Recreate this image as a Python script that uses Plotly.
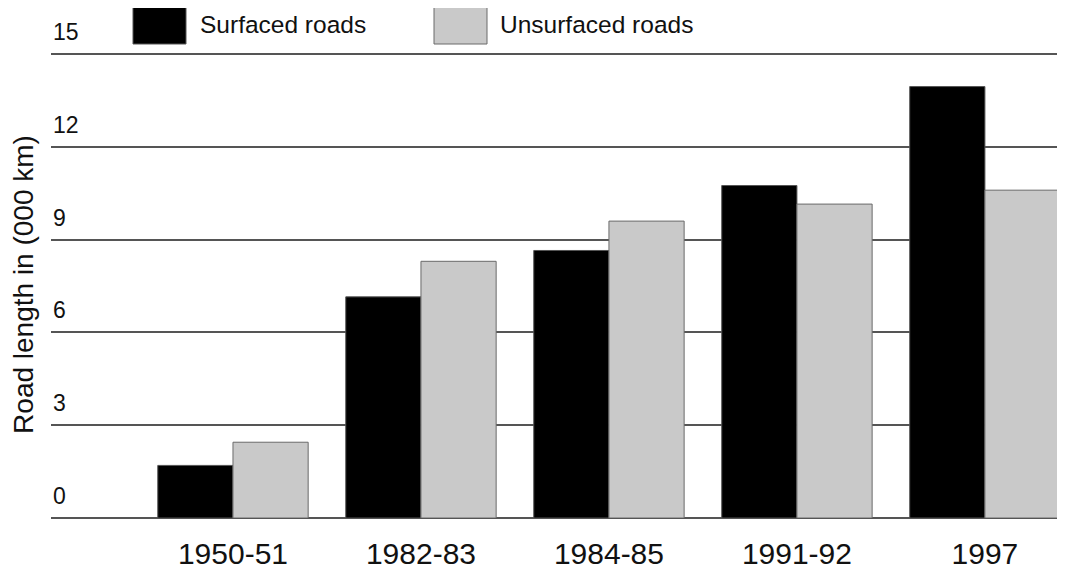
import plotly.graph_objects as go

categories = ["1950-51", "1982-83", "1984-85", "1991-92", "1997"]
surfaced = [1.7, 7.15, 8.65, 10.75, 13.95]
unsurfaced = [2.45, 8.3, 9.6, 10.15, 10.6]
y_ticks = [0, 3, 6, 9, 12, 15]
series_names = ["Surfaced roads", "Unsurfaced roads"]

FONT = "Liberation Sans, Arial, sans-serif"
OFF = 8  # page body margin
W, H = 1065 - OFF, 579 - OFF
Y_TOP = 15.1
# plot area in page coords: x 51..1065, y(0)=518, y(15)=54
unit = (518 - 54) / 15.0
L, R = 51 - OFF, 0
T = int(round(54 - OFF - (Y_TOP - 15) * unit))
B = H - (518 - OFF)

fig = go.Figure()
fig.add_trace(go.Bar(x=categories, y=surfaced, name=series_names[0],
                     marker=dict(color="#000000", line=dict(color="#555555", width=1)),
                     showlegend=False))
fig.add_trace(go.Bar(x=categories, y=unsurfaced, name=series_names[1],
                     marker=dict(color="#c9c9c9", line=dict(color="#6a6a6a", width=1)),
                     showlegend=False))

pw = W - L - R
ph = H - T - B

def px(x):
    return (x - OFF - L) / pw

def py(y):
    return (H - B - (y - OFF)) / ph

# manual legend (large swatches)
fig.add_shape(type="rect", xref="paper", yref="paper",
              x0=px(133), x1=px(186), y0=py(44), y1=py(7),
              fillcolor="#000000", line=dict(color="#555555", width=1))
fig.add_shape(type="rect", xref="paper", yref="paper",
              x0=px(434), x1=px(487), y0=py(44), y1=py(7),
              fillcolor="#c9c9c9", line=dict(color="#6a6a6a", width=1))
fig.add_annotation(xref="paper", yref="paper", x=px(198), y=py(24),
                   text=series_names[0], showarrow=False, xanchor="left", yanchor="middle",
                   font=dict(family=FONT, size=24.5, color="#111111"))
fig.add_annotation(xref="paper", yref="paper", x=px(498), y=py(24),
                   text=series_names[1], showarrow=False, xanchor="left", yanchor="middle",
                   font=dict(family=FONT, size=24.5, color="#111111"))

# y tick labels sitting above their gridlines
for v in y_ticks:
    fig.add_annotation(xref="paper", yref="y", x=0, y=v, yshift=22, xshift=0,
                       text=str(v), showarrow=False, xanchor="left", yanchor="middle",
                       font=dict(family=FONT, size=23, color="#111111"))

fig.update_layout(
    width=W, height=H,
    margin=dict(l=L, r=R, t=T, b=B, autoexpand=False),
    paper_bgcolor="#ffffff", plot_bgcolor="#ffffff",
    barmode="group", bargap=0.2, bargroupgap=0,
    font=dict(family=FONT, color="#111111"),
)
fig.update_xaxes(
    type="category", range=[-0.968, 4.426],
    showgrid=False, showline=False, zeroline=False, ticks="",
    tickfont=dict(family=FONT, size=30, color="#111111"),
    ticklabelstandoff=15,
    automargin=False,
)
fig.update_yaxes(
    range=[0, Y_TOP], tickvals=y_ticks, showticklabels=False,
    showgrid=True, gridcolor="#555555", gridwidth=1.5,
    zeroline=True, zerolinecolor="#555555", zerolinewidth=1.5,
    showline=False, ticks="",
    title=dict(text="Road length in (000 km)", font=dict(family=FONT, size=28, color="#111111"), standoff=16),
    automargin=False,
)

fig.write_html("out.html")
